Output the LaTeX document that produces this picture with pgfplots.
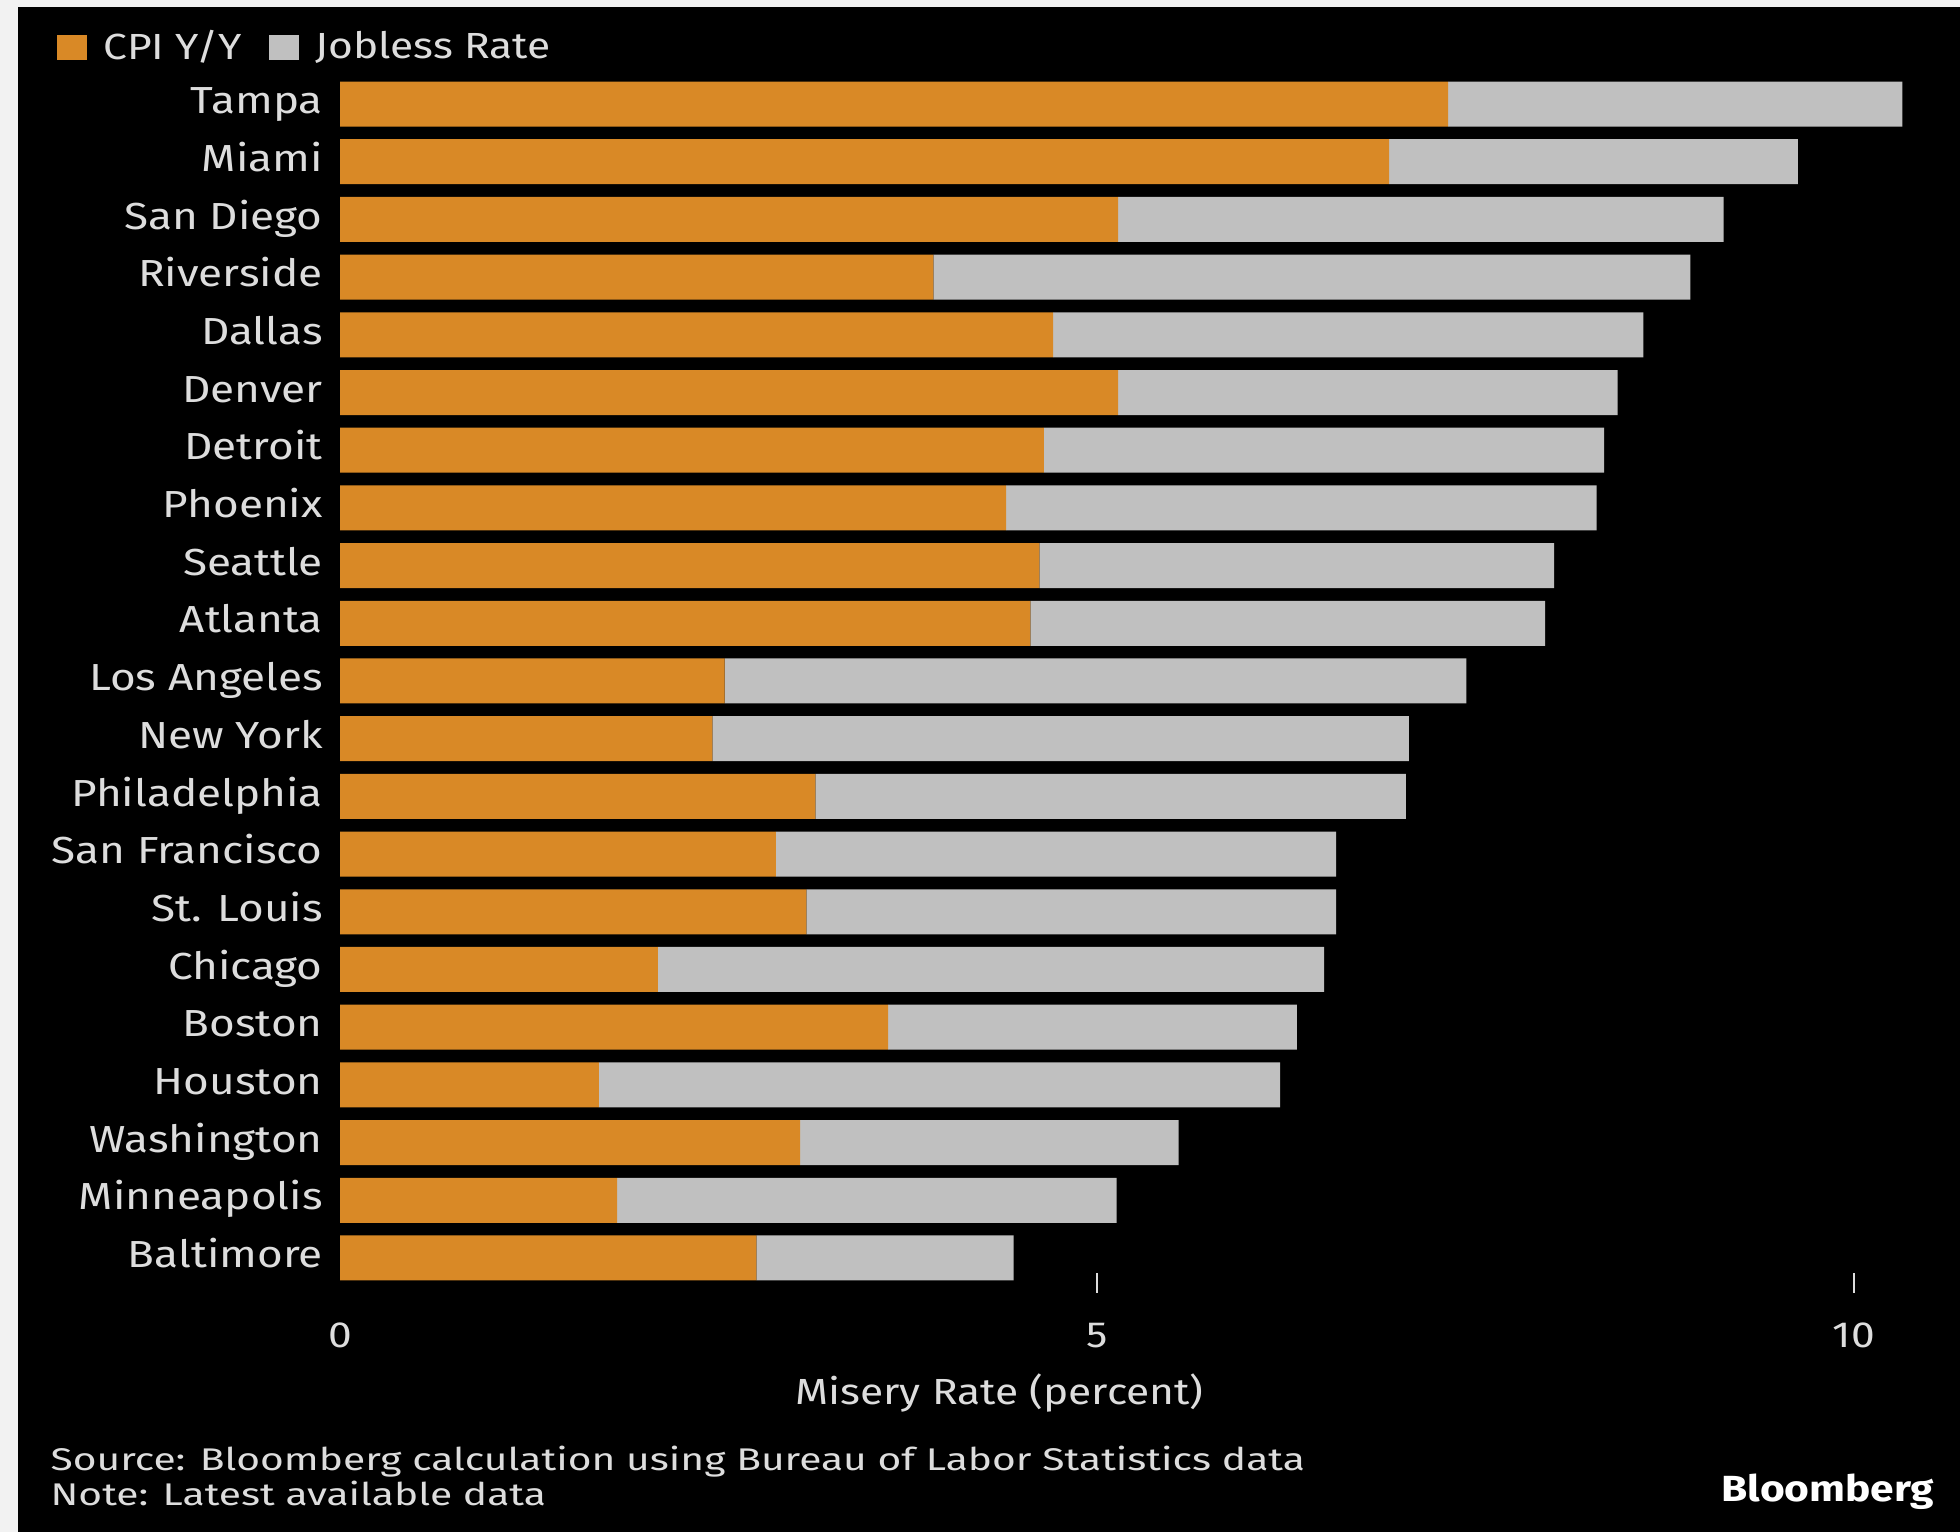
\documentclass[border=0pt]{standalone}
\usepackage{pgfplots}
\pgfplotsset{compat=1.18}
\usepackage{pgfplotstable}
\usepackage{fontspec}
\setmainfont[FakeStretch=1.17]{Fira Sans}
\newfontfamily\notefont[FakeStretch=1.3]{Fira Sans}
\definecolor{barorange}{HTML}{D98926}
\definecolor{bargray}{HTML}{C0C0C0}
\definecolor{txt}{HTML}{DDDDDD}
\definecolor{outer}{HTML}{F2F2F2}
\pgfplotstableread{
idx cpi job
20 7.32 3.00
19 6.93 2.70
18 5.14 4.00
17 3.92 5.00
16 4.71 3.90
15 5.14 3.30
14 4.65 3.70
13 4.40 3.90
12 4.62 3.40
11 4.56 3.40
10 2.54 4.90
9 2.46 4.60
8 3.14 3.90
7 2.88 3.70
6 3.08 3.50
5 2.10 4.40
4 3.62 2.70
3 1.71 4.50
2 3.04 2.50
1 1.83 3.30
0 2.75 1.70
}\misery
\begin{document}
\begin{tikzpicture}
\useasboundingbox (0,0) rectangle (588pt,459.6pt);
\fill[outer] (0,0) rectangle (588pt,459.6pt);
\fill[black] (5.4pt,0) rectangle (588pt,457.5pt);
\begin{axis}[
  at={(102pt,71.7pt)}, anchor=south west,
  scale only axis, width=481.4pt, height=366.9pt,
  xbar stacked, bar width=0.78,
  xmin=0, xmax=10.6, ymin=-0.607, ymax=20.59,
  axis line style={draw=none},
  xtick={5,10}, xtick pos=bottom, xtick align=inside,
  major tick length=6pt,
  x tick style={draw=txt, line width=0.6pt},
  extra x ticks={0}, extra x tick style={major tick length=0pt},
  ytick={0,...,20}, ytick pos=left, y tick style={draw=none},
  yticklabels={Baltimore,Minneapolis,Washington,Houston,Boston,Chicago,St. Louis,San Francisco,Philadelphia,New York,Los Angeles,Atlanta,Seattle,Phoenix,Detroit,Denver,Dallas,Riverside,San Diego,Miami,Tampa},
  yticklabel style={anchor=base east, inner sep=0pt, xshift=-5pt, yshift=-2.9pt, font=\fontsize{11.3}{13}\selectfont, text=txt},
  xticklabel style={anchor=base, inner sep=0pt, yshift=-16.5pt, font=\fontsize{10.9}{13}\selectfont, text=txt},
  /pgf/number format/assume math mode=true,
  xlabel={Misery Rate (percent)},
  xlabel style={at={(axis description cs:0.411,0)}, anchor=base, inner sep=0pt, yshift=-33.6pt, font=\fontsize{10.9}{13}\selectfont, text=txt},
  legend columns=2,
  legend style={at={(axis description cs:-0.177,1.0185)}, anchor=west, draw=none, fill=none, inner sep=0pt,
    font=\fontsize{10.9}{13}\selectfont, text=txt,
    /tikz/every odd column/.append style={column sep=3pt},
    /tikz/every even column/.append style={column sep=6pt}},
  legend image code/.code={\fill[#1] (0pt,-3.75pt) rectangle (9pt,3.75pt);},
]
\addplot[fill=barorange, draw=none] table[x=cpi, y=idx]{\misery};
\addplot[fill=bargray, draw=none] table[x=job, y=idx]{\misery};
\legend{CPI Y/Y, Jobless Rate}
\end{axis}
\node[anchor=base west, inner sep=0pt, text=txt, font=\notefont\fontsize{9.4}{11}\selectfont] at (15pt,18.5pt) {Source: Bloomberg calculation using Bureau of Labor Statistics data};
\node[anchor=base west, inner sep=0pt, text=txt, font=\notefont\fontsize{9.4}{11}\selectfont] at (15pt,7.8pt) {Note: Latest available data};
\node[anchor=base east, inner sep=0pt, text=white, font=\fontsize{10.9}{13}\selectfont\bfseries] at (580.5pt,9pt) {Bloomberg};
\end{tikzpicture}
\end{document}
